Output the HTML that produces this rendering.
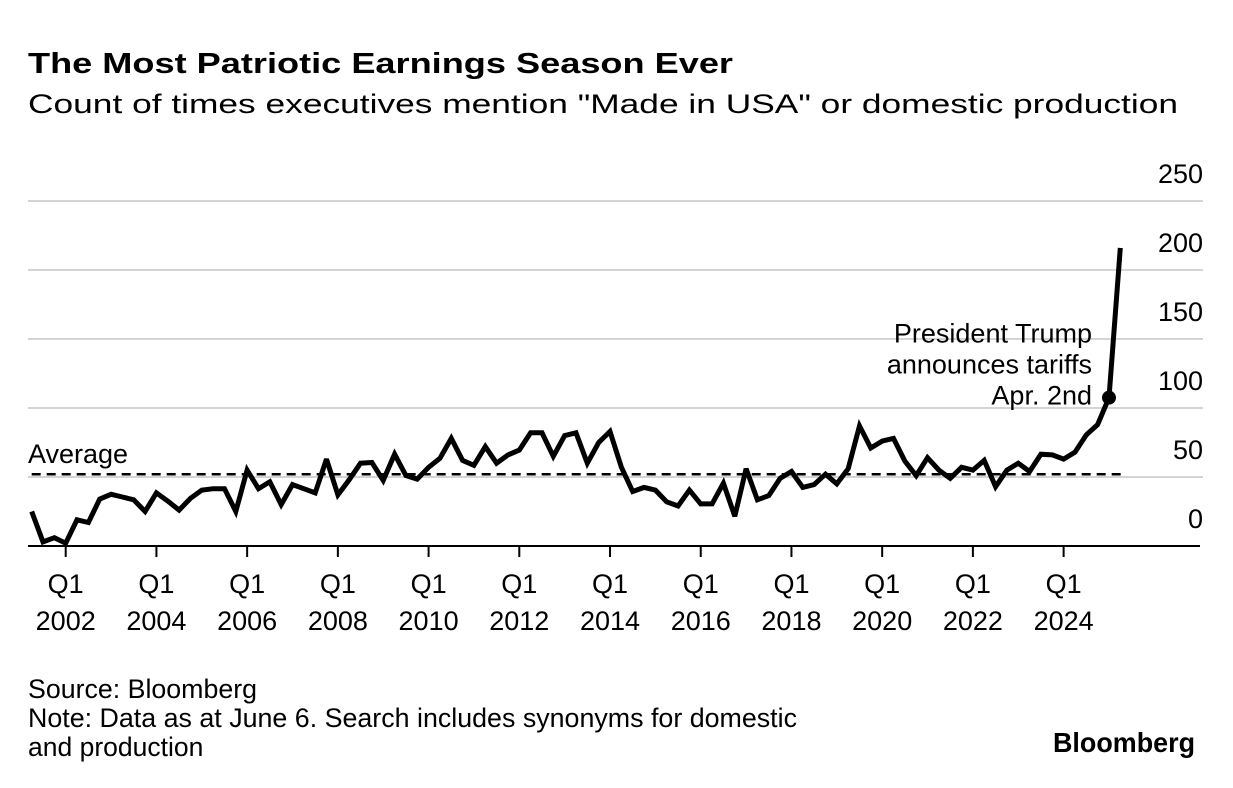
<!DOCTYPE html>
<html><head><meta charset="utf-8"><style>
html,body{margin:0;padding:0;background:#fff;}
svg{display:block;font-family:"Liberation Sans",Arial,sans-serif;}
</style></head><body>
<svg id="chart" width="1233" height="788" viewBox="0 0 1233 788">
<text x="28" y="73" font-size="29" font-weight="bold" textLength="705" lengthAdjust="spacingAndGlyphs">The Most Patriotic Earnings Season Ever</text>
<text x="28" y="113" font-size="27" textLength="1150" lengthAdjust="spacingAndGlyphs">Count of times executives mention "Made in USA" or domestic production</text>
<g id="grid"></g>
<g id="ylabels"></g>
<g id="xaxis"></g>
<g id="avg"></g>
<g id="series"></g>
<text x="28" y="698" font-size="26.5" textLength="229" lengthAdjust="spacingAndGlyphs">Source: Bloomberg</text>
<text x="28" y="727" font-size="26.5" textLength="769" lengthAdjust="spacingAndGlyphs">Note: Data as at June 6. Search includes synonyms for domestic</text>
<text x="28" y="756" font-size="26.5">and production</text>
<text x="1195" y="752" font-size="28" font-weight="bold" text-anchor="end" textLength="142" lengthAdjust="spacingAndGlyphs">Bloomberg</text>
</svg>
<script>
const yTicks = [0, 50, 100, 150, 200, 250];
const xTickYears = ["2002","2004","2006","2008","2010","2012","2014","2016","2018","2020","2022","2024"];
const startIndex = -3; // Q2 2001 relative to Q1 2002
const values = [25,3,6,2,19,17,34,37.5,35.5,33.5,25,38.5,32.5,26,34.5,40.5,41.5,41.5,25,55,41.5,46.5,30,44.5,41.5,38.5,63,37,48,60,60.5,47.5,66.5,51,48.5,57,63.5,78,62,58.5,72,60,66,69.5,82,82,65,80,82,60,75,83,57,39.5,42.5,40.5,32,29,40.5,30.5,30.5,45.5,21.5,56,33.5,36.5,49,54,42.5,44.5,52,45,56,87,71,76,78,61.5,51,64,55,49,57,55,62,43,55,60,54,66.5,66,63,68,80.5,88,107.5,216];
const averageValue = 52;
const annotationIndex = 92;
const annotationLines = ["President Trump","announces tariffs","Apr. 2nd"];

const NS = "http://www.w3.org/2000/svg";
function X(i){ return 65.7 + i*11.34; }
function Y(v){ return 546 - v*1.38; }
function mk(tag, attrs, parent){ const e=document.createElementNS(NS,tag); for(const k in attrs) e.setAttribute(k, attrs[k]); parent.appendChild(e); return e; }

const grid=document.getElementById('grid'), yl=document.getElementById('ylabels');
yTicks.forEach(t=>{
  if(t>0){ const l=mk('line',{x1:28,x2:1203,y1:Y(t),y2:Y(t),stroke:'#d4d4d4','stroke-width':2},grid);
    
     }
  const tx=mk('text',{x:1203,y:Y(t)-18,'font-size':27,'text-anchor':'end'},yl);
  tx.textContent=t;
  
  
});
const xa=document.getElementById('xaxis');
const base=mk('line',{x1:28,x2:1200,y1:546,y2:546,stroke:'#000','stroke-width':2},xa);


xTickYears.forEach((yr,k)=>{
  const x=X(k*8);
  const t=mk('line',{x1:x,x2:x,y1:546,y2:557,stroke:'#000','stroke-width':2},xa);
  
  
  const q=mk('text',{x:x,y:593,'font-size':27,'text-anchor':'middle'},xa);
  q.textContent='Q1';
  
  
  const y=mk('text',{x:x,y:630,'font-size':27,'text-anchor':'middle'},xa);
  y.textContent=yr;
  
  
});
const av=document.getElementById('avg');
const al=mk('line',{x1:X(startIndex),x2:1123,y1:Y(averageValue),y2:Y(averageValue),stroke:'#000','stroke-width':2.5,'stroke-dasharray':'9,6'},av);


const at=mk('text',{x:28,y:Y(averageValue)-11,'font-size':27},av);
at.textContent='Average';



const s=document.getElementById('series');
const pts=values.map((v,k)=>X(startIndex+k).toFixed(1)+','+Y(v).toFixed(1)).join(' ');
const pl=mk('polyline',{points:pts,fill:'none',stroke:'#000','stroke-width':5,'stroke-linejoin':'miter','stroke-miterlimit':3},s);


const ai=annotationIndex-startIndex;
const dot=mk('circle',{cx:X(annotationIndex),cy:Y(values[ai]),r:7,fill:'#000'},s);


annotationLines.forEach((ln,k)=>{
  const t=mk('text',{x:1092,y:Y(values[ai])-55+k*31,'font-size':27,'text-anchor':'end'},s);
  t.textContent=ln;
  
  
});
</script>
</body></html>
